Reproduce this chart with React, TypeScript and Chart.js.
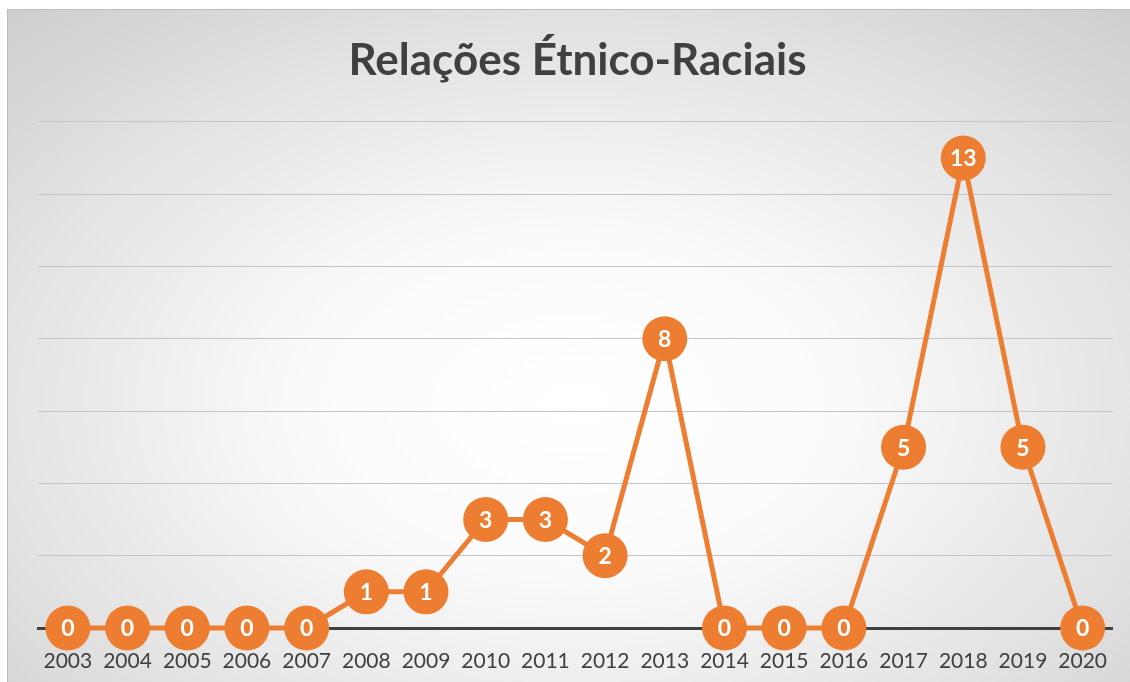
import React, { useEffect, useRef } from "react";
import { Chart, registerables } from "chart.js";

Chart.register(...registerables);

const years = ["2003","2004","2005","2006","2007","2008","2009","2010","2011","2012","2013","2014","2015","2016","2017","2018","2019","2020"];
const counts = [0,0,0,0,0,1,1,3,3,2,8,0,0,0,5,13,5,0];
const titleText = "Relações Étnico-Raciais";
const orange = "#ED7D31";

const valueLabels = {
  id: "valueLabels",
  afterDatasetsDraw(chart: any) {
    const ctx = chart.ctx;
    const meta = chart.getDatasetMeta(0);
    const data = chart.data.datasets[0].data;
    ctx.save();
    ctx.fillStyle = "#ffffff";
    ctx.font = "bold 23px Lato";
    ctx.textAlign = "center";
    ctx.textBaseline = "middle";
    meta.data.forEach((pt: any, i: number) => {
      ctx.fillText(String(data[i]), pt.x, pt.y + 1);
    });
    ctx.restore();
  },
};

export default function App() {
  const ref = useRef<HTMLCanvasElement>(null);
  useEffect(() => {
    if (!ref.current) return;
    const chart = new Chart(ref.current, {
      type: "line",
      data: {
        labels: years,
        datasets: [
          {
            data: counts,
            borderColor: orange,
            backgroundColor: orange,
            borderWidth: 5,
            pointRadius: 22.5,
            pointHoverRadius: 22.5,
            pointBorderWidth: 0,
            pointBackgroundColor: orange,
            tension: 0,
            clip: false as any,
          },
        ],
      },
      options: {
        animation: false,
        responsive: true,
        maintainAspectRatio: false,
        events: [],
        layout: { padding: { left: 38, right: 18, top: 0, bottom: 0 } },
        plugins: {
          legend: { display: false },
          tooltip: { enabled: false },
          title: {
            display: true,
            text: titleText,
            color: "#404040",
            font: { family: "Lato", size: 44, weight: "bold", lineHeight: 1.2 },
            padding: { top: 34, bottom: 35 },
          },
        },
        scales: {
          x: {
            offset: true,
            grid: { display: false, drawTicks: false },
            border: { display: true, color: "#404040", width: 3 },
            ticks: {
              color: "#404040",
              font: { family: "Lato", size: 21 },
              padding: 21,
              maxRotation: 0,
              autoSkip: false,
            },
            afterFit: (scale: any) => {
              scale.height = 54;
              scale.paddingLeft = 0;
              scale.paddingRight = 0;
            },
          },
          y: {
            display: true,
            min: 0,
            max: 14,
            ticks: { display: false, stepSize: 2 },
            grid: { color: "#c4c4c4", lineWidth: 1, drawTicks: false },
            border: { display: false },
          },
        },
      },
      plugins: [valueLabels],
    });
    return () => chart.destroy();
  }, []);

  return (
    <div style={{ position: "absolute", left: 0, top: 0, width: 1130, height: 682, overflow: "hidden", background: "#ffffff" }}>
      <div
        style={{
          position: "absolute",
          left: 7,
          top: 9,
          width: 1130,
          height: 680,
          borderLeft: "1px solid #bdbdbd",
          borderTop: "1px solid #bdbdbd",
          background: "radial-gradient(ellipse 80% 85% at 50% 58%, #ffffff 0%, #fafafa 30%, #e2e2e2 65%, #c8c8c8 100%)",
        }}
      />
      <div style={{ position: "absolute", left: 0, top: 0, width: 1135, height: 682 }}>
        <canvas ref={ref} />
      </div>
    </div>
  );
}
